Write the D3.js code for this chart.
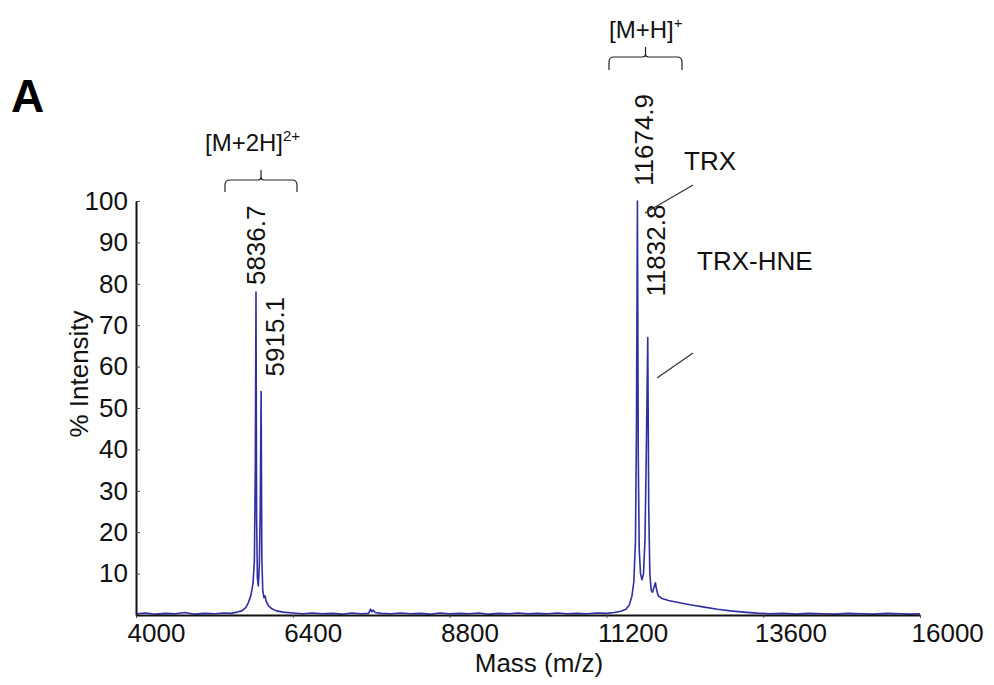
<!DOCTYPE html>
<html>
<head>
<meta charset="utf-8">
<script src="https://cdn.jsdelivr.net/npm/d3@7"></script>
<style>
  body { margin: 0; background: #fff; }
  svg { display: block; font-family: "Liberation Sans", Arial, sans-serif; }
</style>
</head>
<body>
<div id="chart"></div>
<script>
// spectrum (m/z, % intensity)
const spectrumMass = [
  4000, 4150, 4300, 4450, 4600, 4750, 4900, 5050, 5200, 5350, 5450, 5550, 5620, 5680, 5720, 5760, 5790, 5812, 5826,
  5836.7, 5846, 5858, 5872, 5888, 5902, 5915.1, 5926, 5940, 5958, 5975, 5995, 6030, 6080, 6150, 6250, 6400, 6550,
  6700, 6850, 7000, 7150, 7300, 7450, 7560, 7590, 7610, 7630, 7660, 7750, 7900, 8050, 8200, 8350, 8500, 8650, 8800,
  8950, 9100, 9250, 9400, 9550, 9700, 9850, 10000, 10150, 10300, 10450, 10600, 10750, 10900, 11050, 11200, 11320,
  11420, 11500, 11550, 11590, 11620, 11645, 11660, 11674.9, 11688, 11702, 11722, 11745, 11768, 11790, 11810, 11832.8,
  11848, 11865, 11885, 11905, 11925, 11950, 11970, 11995, 12050, 12150, 12300, 12500, 12700, 12900, 13100, 13300,
  13500, 13700, 13900, 14100, 14300, 14500, 14700, 14900, 15100, 15300, 15500, 15700, 15850, 16000
];
const spectrumIntensity = [
  0.3, 0.5, 0.2, 0.4, 0.3, 0.6, 0.2, 0.4, 0.3, 0.5, 0.4, 0.7, 1.0, 1.8, 3.0, 4.8, 7.5, 13, 35,
  78, 24, 9, 7, 12, 26, 54, 14, 6, 4.2, 4.6, 3.2, 2.2, 1.5, 1.0, 0.7, 0.5, 0.3,
  0.5, 0.3, 0.4, 0.2, 0.5, 0.3, 0.4, 1.4, 0.8, 1.2, 0.6, 0.4, 0.3, 0.5, 0.3, 0.4, 0.2, 0.5, 0.3,
  0.4, 0.3, 0.5, 0.2, 0.4, 0.3, 0.5, 0.3, 0.4, 0.3, 0.5, 0.3, 0.4, 0.3, 0.5, 0.4, 0.6,
  0.9, 1.4, 2.4, 4.5, 8, 18, 45, 100, 38, 16, 10, 8.5, 10, 18, 38, 67,
  26, 10, 6, 5.5, 6.5, 7.8, 6, 4.6, 4.0, 3.5, 3.0, 2.4, 1.9, 1.4, 1.0, 0.7,
  0.45, 0.3, 0.4, 0.2, 0.4, 0.3, 0.2, 0.4, 0.3, 0.2, 0.4, 0.3, 0.2, 0.3
];

const peakMass = [5836.7, 5915.1, 11674.9, 11832.8];
const peakIntensity = [78, 54, 100, 67];
const peakLabel = ["5836.7", "5915.1", "11674.9", "11832.8"];

const xTicks = [4000, 6400, 8800, 11200, 13600, 16000];
const yTicks = [10, 20, 30, 40, 50, 60, 70, 80, 90, 100];

const width = 994, height = 685;
const FONT = 26;

const svg = d3.select("#chart").append("svg")
  .attr("width", width)
  .attr("height", height);

const x = d3.scaleLinear().domain([4000, 16000]).range([136, 920]);
const y = d3.scaleLinear().domain([0, 100]).range([615, 201]);

const data = spectrumMass.map((m, i) => ({mass: m, value: spectrumIntensity[i]}));

// spectrum
const line = d3.line()
  .x(d => x(d.mass))
  .y(d => y(d.value));

svg.append("path")
  .datum(data)
  .attr("fill", "none")
  .attr("stroke", "#2f2fa3")
  .attr("stroke-width", 1.6)
  .attr("stroke-linejoin", "round")
  .attr("d", line);

// axes
const xAxis = svg.append("g")
  .attr("transform", `translate(0,${y(0)})`)
  .call(d3.axisBottom(x).tickValues(xTicks).tickSize(3).tickSizeOuter(0).tickFormat(d3.format("d")));
xAxis.select(".domain").attr("stroke", "#111").attr("stroke-width", 2);
xAxis.selectAll(".tick line").attr("stroke", "#444");
xAxis.selectAll(".tick text")
  .attr("text-anchor", "start")
  .attr("x", -9)
  .attr("y", 27)
  .attr("dy", null)
  .attr("fill", "#111")
  .style("font-size", FONT + "px")
  .style("font-family", "'Liberation Sans', Arial, sans-serif");

const yAxis = svg.append("g")
  .attr("transform", `translate(${x(4000)},0)`)
  .call(d3.axisLeft(y).tickValues(yTicks).tickSize(-4).tickSizeOuter(0).tickPadding(8));
yAxis.select(".domain").attr("stroke", "#111").attr("stroke-width", 2);
yAxis.selectAll(".tick line").attr("stroke", "#444");
yAxis.selectAll(".tick text")
  .attr("fill", "#111")
  .style("font-size", FONT + "px")
  .style("font-family", "'Liberation Sans', Arial, sans-serif");

// axis titles
svg.append("text")
  .attr("x", 539)
  .attr("y", 672)
  .attr("text-anchor", "middle")
  .attr("fill", "#111")
  .style("font-size", FONT + "px")
  .text("Mass (m/z)");

svg.append("text")
  .attr("transform", "translate(88,374) rotate(-90)")
  .attr("text-anchor", "middle")
  .attr("fill", "#111")
  .style("font-size", FONT + "px")
  .text("% Intensity");

// panel letter
svg.append("text")
  .attr("x", 11)
  .attr("y", 112)
  .attr("fill", "#000")
  .style("font-size", "46px")
  .style("font-weight", "bold")
  .text("A");

// peak labels (rotated): offsets from the peak apex
const labelDx = [9, 23, 16, 17];
const labelDy = [-7, -15, -15, -41];
peakMass.forEach((m, i) => {
  const px = x(m) + labelDx[i];
  const py = y(peakIntensity[i]) + labelDy[i];
  svg.append("text")
    .attr("transform", `translate(${px},${py}) rotate(-90)`)
    .attr("text-anchor", "start")
    .attr("fill", "#111")
    .style("font-size", FONT + "px")
    .text(peakLabel[i]);
});

// annotations TRX / TRX-HNE with leader lines
svg.append("text").attr("x", 684).attr("y", 170).attr("fill", "#111")
  .style("font-size", FONT + "px").text("TRX");
svg.append("line").attr("x1", 645).attr("y1", 213).attr("x2", 693).attr("y2", 185)
  .attr("stroke", "#333").attr("stroke-width", 1.2);

svg.append("text").attr("x", 697).attr("y", 270).attr("fill", "#111")
  .style("font-size", FONT + "px").text("TRX-HNE");
svg.append("line").attr("x1", 657).attr("y1", 378).attr("x2", 693).attr("y2", 353)
  .attr("stroke", "#333").attr("stroke-width", 1.2);

// braces with charge-state labels
function brace(x0, x1, yTop, yBar, yEnd) {
  const xm = (x0 + x1) / 2, r = 5;
  const p = `M${x0},${yEnd} L${x0},${yBar + r} Q${x0},${yBar} ${x0 + r},${yBar} L${xm - 3},${yBar} Q${xm},${yBar} ${xm},${yBar - 3} L${xm},${yTop}` +
            ` M${xm},${yBar - 3} Q${xm},${yBar} ${xm + 3},${yBar} L${x1 - r},${yBar} Q${x1},${yBar} ${x1},${yBar + r} L${x1},${yEnd}`;
  svg.append("path").attr("d", p).attr("fill", "none").attr("stroke", "#222").attr("stroke-width", 1.2);
}
brace(225, 297, 170, 180, 192);
brace(609, 682, 47, 57, 70);

const t1 = svg.append("text").attr("x", 205).attr("y", 151).attr("fill", "#111").style("font-size", "24px");
t1.append("tspan").text("[M+2H]");
t1.append("tspan").attr("dy", -10).style("font-size", "15px").text("2+");

const t2 = svg.append("text").attr("x", 609).attr("y", 38).attr("fill", "#111").style("font-size", "24px");
t2.append("tspan").text("[M+H]");
t2.append("tspan").attr("dy", -10).style("font-size", "15px").text("+");
</script>
</body>
</html>
